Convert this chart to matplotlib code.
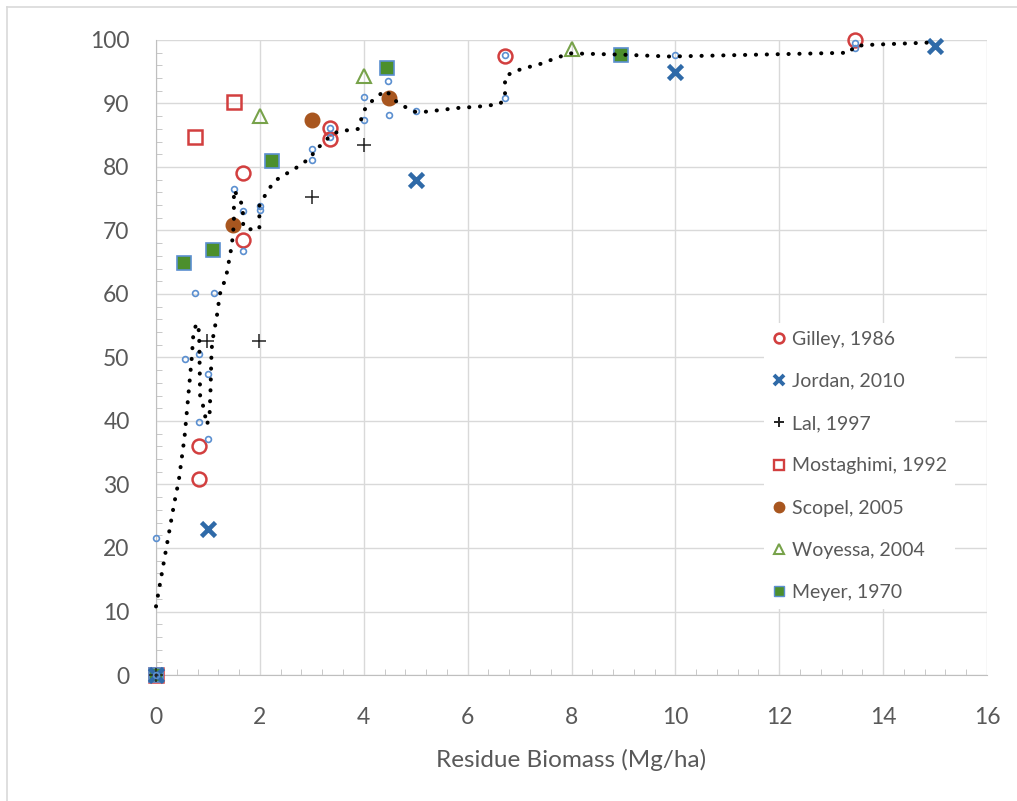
import matplotlib
matplotlib.use('Agg')
import matplotlib.pyplot as plt
from matplotlib.lines import Line2D
from matplotlib.ticker import MultipleLocator

plt.rcParams['font.family'] = ['Lato', 'DejaVu Sans']

# data (Mg/ha, % reduction)
gilley_x = [0.83, 0.83, 1.67, 1.67, 3.35, 3.35, 6.72, 13.45]
gilley_y = [36.1, 30.8, 79.0, 68.5, 86.2, 84.4, 97.5, 100.0]
jordan_x = [0, 1.0, 5.0, 10.0, 15.0]
jordan_y = [0, 23.0, 78.0, 95.0, 99.0]
lal_x = [0, 0.98, 1.98, 3.0, 4.0]
lal_y = [0, 52.6, 52.6, 75.3, 83.5]
mostaghimi_x = [0, 0.75, 1.5]
mostaghimi_y = [0, 84.7, 90.2]
scopel_x = [1.49, 3.0, 4.49]
scopel_y = [70.9, 87.4, 90.9]
woyessa_x = [2.0, 4.0, 8.0]
woyessa_y = [88.0, 94.3, 98.6]
meyer_x = [0, 0.54, 1.1, 2.23, 4.45, 8.95]
meyer_y = [0, 64.9, 66.9, 80.9, 95.6, 97.7]

# all observations (small open circles)
all_x = [0, 0, 0.55, 0.75, 0.83, 0.83, 1.0, 1.0, 1.12, 1.5, 1.68, 1.68, 2.0, 2.0,
         3.0, 3.0, 3.35, 3.35, 4.0, 4.0, 4.47, 4.49, 5.0, 6.72, 6.72, 10.0, 13.45, 13.45]
all_y = [0, 21.6, 49.8, 60.1, 50.5, 39.8, 47.4, 37.2, 60.1, 76.5, 73.1, 66.8, 73.9, 73.2,
         82.9, 81.1, 86.1, 84.7, 91.1, 87.4, 93.6, 88.2, 88.8, 97.7, 90.9, 97.7, 99.5, 98.7]

# moving-average trend line
trend_x = [0.0, 0.35, 0.44, 0.55, 0.62, 0.69, 0.72, 0.78, 0.83, 0.85, 0.91, 0.98, 1.03, 1.05,
           1.07, 1.09, 1.17, 1.23, 1.35, 1.46, 1.5, 1.5, 1.58, 1.67, 1.68, 1.81, 1.99, 1.99,
           2.07, 2.16, 2.29, 2.45, 2.64, 2.8, 2.98, 3.06, 3.22, 3.35, 3.51, 3.7, 3.9, 3.99,
           4.09, 4.26, 4.42, 4.63, 4.81, 4.99, 5.18, 5.4, 5.82, 6.2, 6.62, 6.72, 6.72, 6.88,
           7.07, 7.43, 7.68, 7.97, 8.93, 9.9, 13.36, 13.43, 13.62, 14.9]
trend_y = [10.8, 27.0, 30.7, 37.5, 43.8, 50.1, 53.8, 55.4, 54.1, 43.8, 42.3, 39.4, 40.7, 45.0,
           51.2, 52.8, 56.4, 60.0, 62.7, 67.7, 71.1, 76.4, 75.3, 73.9, 70.5, 70.2, 70.2, 73.9,
           75.1, 76.4, 77.8, 78.7, 79.5, 80.5, 81.4, 82.7, 83.7, 84.9, 85.6, 85.8, 86.0, 88.7,
           89.9, 91.1, 92.1, 90.3, 89.4, 88.7, 88.7, 88.9, 89.3, 89.5, 89.9, 90.9, 94.2, 95.0,
           95.5, 96.3, 97.1, 97.9, 97.7, 97.4, 98.0, 98.9, 99.2, 99.6]

red = '#D23F3F'
blue = '#2F6AA8'
brown = '#A8561F'
green_tri = '#77A24A'
green_sq = '#4C8F2C'
light_blue = '#5B8FD0'
grey_txt = '#595959'

fig = plt.figure(figsize=(10.17, 8.01), dpi=100)
ax = fig.add_axes([156 / 1017, 1 - 675 / 801, (987 - 156) / 1017, (675 - 40) / 801])

ax.plot(mostaghimi_x, mostaghimi_y, 's', ms=10, mfc='none', mec=red, mew=1.8,
        clip_on=False, label='Mostaghimi, 1992', zorder=3)
ax.plot(meyer_x, meyer_y, 's', ms=9.5, mfc=green_sq, mec=light_blue, mew=1.2,
        clip_on=False, label='Meyer, 1970', zorder=3)
ax.plot(gilley_x, gilley_y, 'o', ms=10, mfc='none', mec=red, mew=1.8,
        clip_on=False, label='Gilley, 1986', zorder=3)
ax.plot(jordan_x, jordan_y, 'x', ms=9.5, mec=blue, mew=3.3,
        clip_on=False, label='Jordan, 2010', zorder=3)
ax.plot(lal_x, lal_y, '+', ms=10, mec='#222222', mew=1.1,
        clip_on=False, label='Lal, 1997', zorder=3)
ax.plot(scopel_x, scopel_y, 'o', ms=10.5, mfc=brown, mec=brown,
        clip_on=False, label='Scopel, 2005', zorder=3)
ax.plot(woyessa_x, woyessa_y, '^', ms=10.5, mfc='none', mec=green_tri, mew=1.5,
        clip_on=False, label='Woyessa, 2004', zorder=3)
ax.plot(all_x, all_y, 'o', ms=4.2, mfc='none', mec=light_blue, mew=1.2,
        clip_on=False, zorder=4)
ax.plot(trend_x, trend_y, color='black', lw=2.9, linestyle=(0, (0.05, 2.65)),
        dash_capstyle='round', clip_on=False, zorder=5)

ax.set_xlim(0, 16)
ax.set_ylim(0, 100)
ax.xaxis.set_major_locator(MultipleLocator(2))
ax.xaxis.set_minor_locator(MultipleLocator(0.4))
ax.yaxis.set_major_locator(MultipleLocator(10))
ax.yaxis.set_minor_locator(MultipleLocator(2))
ax.grid(True, which='major', color='#D9D9D9', lw=1.0)
ax.set_axisbelow(True)
for side in ['top', 'right']:
    ax.spines[side].set_visible(False)
for side in ['left', 'bottom']:
    ax.spines[side].set_color('#BFBFBF')
ax.tick_params(which='major', length=0, labelsize=16.5, labelcolor=grey_txt)
ax.tick_params(axis='y', which='major', pad=19)
ax.tick_params(axis='x', which='major', pad=23)
ax.tick_params(which='minor', direction='in', length=4, color='#BFBFBF')

ax.set_xlabel('Residue Biomass (Mg/ha)', fontsize=17.5, color=grey_txt, labelpad=15)

# legend order as in the reference
handles = [
    Line2D([], [], ls='none', marker='o', ms=7, mfc='none', mec=red, mew=1.9),
    Line2D([], [], ls='none', marker='x', ms=6.5, mec=blue, mew=2.8),
    Line2D([], [], ls='none', marker='+', ms=7.5, mec='#222222', mew=1.4),
    Line2D([], [], ls='none', marker='s', ms=7.5, mfc='none', mec=red, mew=1.7),
    Line2D([], [], ls='none', marker='o', ms=7.5, mfc=brown, mec=brown),
    Line2D([], [], ls='none', marker='^', ms=7.5, mfc='none', mec=green_tri, mew=1.5),
    Line2D([], [], ls='none', marker='s', ms=7.5, mfc=green_sq, mec=light_blue, mew=1.0),
]
labels = ['Gilley, 1986', 'Jordan, 2010', 'Lal, 1997', 'Mostaghimi, 1992',
          'Scopel, 2005', 'Woyessa, 2004', 'Meyer, 1970']
leg = ax.legend(handles, labels, loc='upper left', bbox_to_anchor=(754 / 1017, 1 - 313 / 801),
                bbox_transform=fig.transFigure, fontsize=14, frameon=True,
                facecolor='white', edgecolor='none', framealpha=1, fancybox=False,
                labelspacing=1.3, handlelength=0.75, handletextpad=0.3, borderpad=0.4)
for t in leg.get_texts():
    t.set_color(grey_txt)

# chart-area border (only top and left visible in the reference crop)
fig.add_artist(Line2D([7 / 1017, 1], [1 - 7 / 801, 1 - 7 / 801], transform=fig.transFigure,
                      color='#D9D9D9', lw=1.2))
fig.add_artist(Line2D([7 / 1017, 7 / 1017], [0, 1 - 7 / 801], transform=fig.transFigure,
                      color='#D9D9D9', lw=1.2))

fig.savefig('out.png', dpi=100, facecolor='white')
